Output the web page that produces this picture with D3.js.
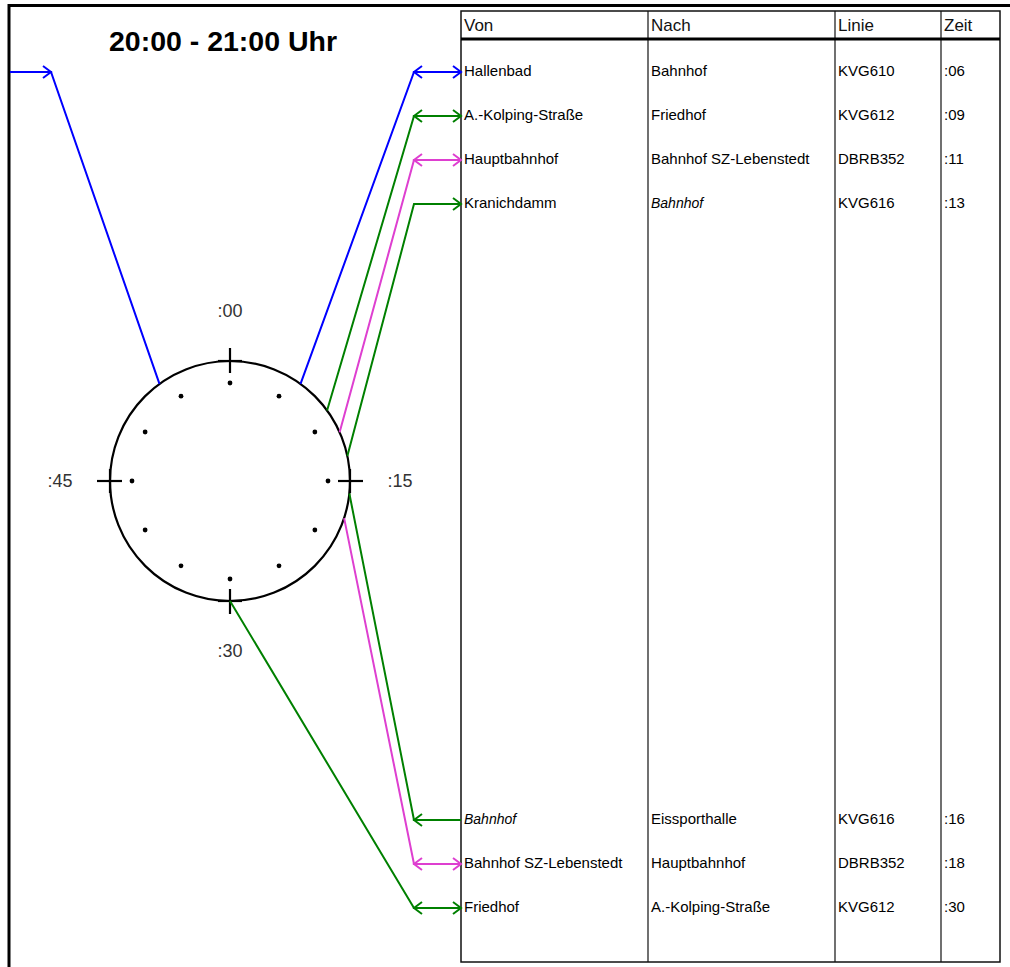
<!DOCTYPE html>
<html>
<head>
<meta charset="utf-8">
<script src="https://cdn.jsdelivr.net/npm/d3@7"></script>
<style>
  html, body { margin: 0; padding: 0; background: #fff; }
  svg { display: block; font-family: Arial, "Liberation Sans", sans-serif; }
</style>
</head>
<body>
<svg id="chart" width="1010" height="967"></svg>
<script>
// Abfahrten 20:00 - 21:00
const title = "20:00 - 21:00 Uhr"
const headers = ["Von", "Nach", "Linie", "Zeit"]
const von = ["Hallenbad", "A.-Kolping-Straße", "Hauptbahnhof", "Kranichdamm", "Bahnhof", "Bahnhof SZ-Lebenstedt", "Friedhof"]
const nach = ["Bahnhof", "Friedhof", "Bahnhof SZ-Lebenstedt", "Bahnhof", "Eissporthalle", "Hauptbahnhof", "A.-Kolping-Straße"]
const vonItalic = [false, false, false, false, true, false, false]
const nachItalic = [false, false, false, true, false, false, false]
const linie = ["KVG610", "KVG612", "DBRB352", "KVG616", "KVG616", "DBRB352", "KVG612"]
const minuten = [6, 9, 11, 13, 16, 18, 30]
const zeilen = [0, 1, 2, 3, 17, 18, 19]          // Zeilenplatz in der Tabelle
const pfeile = ["both", "both", "both", "end", "start", "both", "both"]
// Verbindung nach links (vorherige Stunde)
const linksMinute = [54]
const linksZeile = [0]
const linksLinie = ["KVG610"]
const quartalLabels = [":00", ":15", ":30", ":45"]

const linienFarbe = d3.scaleOrdinal()
  .domain(["KVG610", "KVG612", "KVG616", "DBRB352"])
  .range(["#0000ff", "#008000", "#008000", "#de3fd0"])

const svg = d3.select("#chart")

// Rahmen
svg.append("line").attr("x1", 9).attr("x2", 1010).attr("y1", 5.5).attr("y2", 5.5)
  .attr("stroke", "#000").attr("stroke-width", 3)
svg.append("line").attr("x1", 9).attr("x2", 9).attr("y1", 4).attr("y2", 967)
  .attr("stroke", "#000").attr("stroke-width", 3)

// Titel
svg.append("text").attr("x", 223).attr("y", 51).attr("text-anchor", "middle")
  .attr("font-size", 28.5).attr("font-weight", "bold").text(title)

// Uhr
const cx = 230, cy = 481, R = 120
const angle = d3.scaleLinear().domain([0, 60]).range([0, 2 * Math.PI])
const pt = (m, r) => [cx + r * Math.sin(angle(m)), cy - r * Math.cos(angle(m))]

const clock = svg.append("g")
clock.append("circle").attr("cx", cx).attr("cy", cy).attr("r", R)
  .attr("fill", "none").attr("stroke", "#000").attr("stroke-width", 2.2)

clock.selectAll(".dot").data(d3.range(0, 60, 5)).enter().append("circle")
  .attr("class", "dot")
  .attr("cx", d => pt(d, 98)[0]).attr("cy", d => pt(d, 98)[1])
  .attr("r", 2.4).attr("fill", "#000")

const quarter = d3.range(0, 60, 15)
clock.selectAll(".radial").data(quarter).enter().append("line")
  .attr("x1", d => pt(d, 108)[0]).attr("y1", d => pt(d, 108)[1])
  .attr("x2", d => pt(d, 133)[0]).attr("y2", d => pt(d, 133)[1])
  .attr("stroke", "#000").attr("stroke-width", 2.2)
clock.selectAll(".tang").data(quarter).enter().append("line")
  .attr("x1", d => pt(d, R)[0] - 12 * Math.cos(angle(d)))
  .attr("y1", d => pt(d, R)[1] - 12 * Math.sin(angle(d)))
  .attr("x2", d => pt(d, R)[0] + 12 * Math.cos(angle(d)))
  .attr("y2", d => pt(d, R)[1] + 12 * Math.sin(angle(d)))
  .attr("stroke", "#000").attr("stroke-width", 2.2)
clock.selectAll(".qlab").data(quarter).enter().append("text")
  .attr("x", d => pt(d, 170)[0]).attr("y", d => pt(d, 170)[1] + 6)
  .attr("text-anchor", "middle").attr("font-size", 18).attr("fill", "#333")
  .text((d, i) => quartalLabels[i])

// Tabelle
const tx = [461, 648, 835, 941, 1000]
const tTop = 11, tBottom = 962, tHead = 39
const rowY = d3.scaleLinear().domain([0, 19]).range([72, 908])

const table = svg.append("g")
table.append("rect").attr("x", tx[0]).attr("y", tTop)
  .attr("width", tx[4] - tx[0]).attr("height", tBottom - tTop)
  .attr("fill", "none").attr("stroke", "#111").attr("stroke-width", 1.5)
table.selectAll(".col").data(tx.slice(1, 4)).enter().append("line")
  .attr("x1", d => d).attr("x2", d => d).attr("y1", tTop).attr("y2", tBottom)
  .attr("stroke", "#111").attr("stroke-width", 1.2)
table.append("line").attr("x1", tx[0]).attr("x2", tx[4]).attr("y1", tHead).attr("y2", tHead)
  .attr("stroke", "#000").attr("stroke-width", 3)
table.selectAll(".head").data(headers).enter().append("text")
  .attr("x", (d, i) => tx[i] + 3).attr("y", 31)
  .attr("font-size", 17).attr("fill", "#111").text(d => d)

const cols = [
  { vals: von, italic: vonItalic },
  { vals: nach, italic: nachItalic },
  { vals: linie, italic: linie.map(() => false) },
  { vals: minuten.map(m => ":" + d3.format("02d")(m)), italic: minuten.map(() => false) }
]
cols.forEach((c, ci) => {
  table.selectAll(".c" + ci).data(c.vals).enter().append("text")
    .attr("x", tx[ci] + 3).attr("y", (d, i) => rowY(zeilen[i]) + 4)
    .attr("fill", "#000")
    .attr("font-style", (d, i) => c.italic[i] ? "italic" : "normal")
    .attr("font-size", (d, i) => c.italic[i] ? 14 : 15)
    .text(d => d)
})

// Verbindungslinien
const bendX = 414
const chevron = (x, y, dir) => {
  const l = 8, h = 6
  return "M" + (x - dir * l) + "," + (y - h) + "L" + x + "," + y + "L" + (x - dir * l) + "," + (y + h)
}
const links = svg.append("g").attr("fill", "none").attr("stroke-width", 2)
minuten.forEach((m, i) => {
  const col = linienFarbe(linie[i])
  const y = rowY(zeilen[i])
  const p = pt(m, R)
  links.append("path").attr("stroke", col)
    .attr("d", d3.line()([p, [bendX, y], [tx[0], y]]))
  if (pfeile[i] === "both" || pfeile[i] === "end")
    links.append("path").attr("stroke", col).attr("d", chevron(tx[0], y, 1))
  if (pfeile[i] === "both" || pfeile[i] === "start")
    links.append("path").attr("stroke", col).attr("d", chevron(bendX, y, -1))
})
linksMinute.forEach((m, i) => {
  const col = linienFarbe(linksLinie[i])
  const y = rowY(linksZeile[i])
  links.append("path").attr("stroke", col)
    .attr("d", d3.line()([pt(m, R), [51, y], [10, y]]))
  links.append("path").attr("stroke", col).attr("d", chevron(51, y, 1))
})
</script>
</body>
</html>
